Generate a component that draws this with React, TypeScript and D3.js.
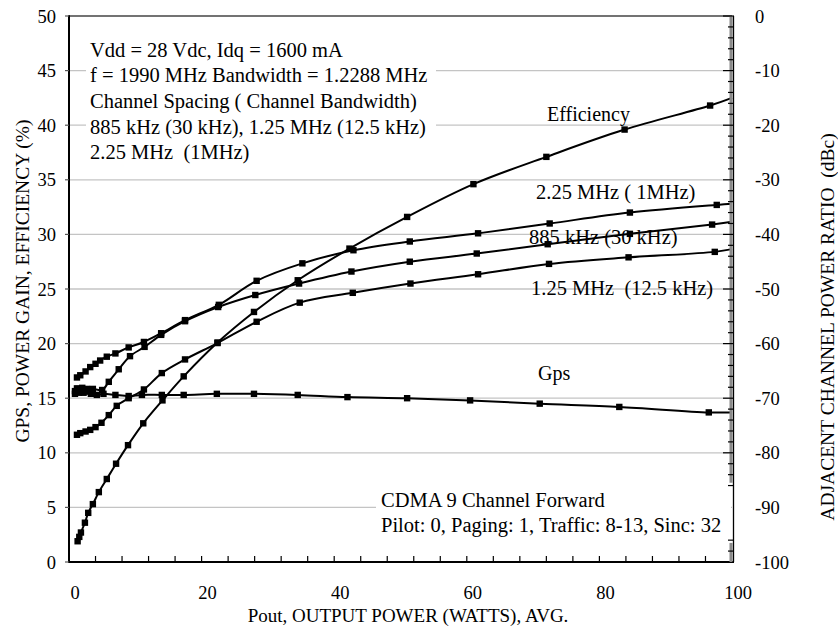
import React from 'react';
import * as d3 from 'd3';

// ---------------- data ----------------
// Pout (W) for each series and values
const gpsP = [0.9, 1.2, 1.5, 1.8, 2.2, 2.7, 3.3, 4.2, 5.2, 7, 9, 11, 14, 17.3, 22.3, 27.9, 34.5, 42, 51, 60.5, 71, 83, 96.5];
const gpsV = [15.4, 15.9, 15.5, 15.8, 15.5, 15.6, 15.4, 15.3, 15.4, 15.3, 15.2, 15.3, 15.3, 15.3, 15.4, 15.4, 15.3, 15.1, 15.0, 14.8, 14.5, 14.2, 13.7];
const gpsEnd = 13.7;

const effP = [1.3, 1.55, 1.8, 2.4, 2.9, 3.6, 4.5, 5.7, 7.1, 8.9, 11.2, 14.1, 17.3, 22.4, 27.9, 34.5, 42.3, 51, 61, 72, 83.8, 96.7];
const effV = [1.9, 2.3, 2.7, 3.6, 4.5, 5.3, 6.4, 7.6, 9.0, 10.7, 12.7, 14.8, 17.0, 20.1, 22.9, 25.8, 28.7, 31.6, 34.6, 37.1, 39.6, 41.8];
const effEnd = 42.5;

// ACPR (dBc, right axis)
const acpr225P = [1.2, 1.7, 2.5, 3.2, 4.0, 4.7, 5.7, 7.0, 9.0, 11.3, 13.9, 17.5, 22.6, 28.3, 35.2, 42.9, 51.4, 61.7, 72.5, 84.6, 97.7];
const acpr225V = [-66.2, -65.8, -65.1, -64.3, -63.7, -63.1, -62.4, -61.8, -60.7, -59.7, -58.1, -55.7, -52.9, -48.5, -45.3, -42.9, -41.3, -39.8, -38.0, -36.0, -34.6];
const acpr225End = -34.4;

const acpr885P = [0.9, 1.4, 2.0, 2.7, 3.6, 5.0, 6.0, 7.5, 9.2, 11.4, 13.9, 17.5, 22.5, 28.1, 34.7, 42.6, 51.4, 61.5, 72.2, 84.6, 97.0];
const acpr885V = [-68.7, -68.3, -68.1, -68.3, -68.3, -68.5, -67.0, -64.7, -62.3, -60.6, -58.4, -55.9, -53.3, -51.1, -49.0, -46.8, -45.0, -43.5, -41.8, -39.9, -38.2];
const acpr885End = -37.7;

const acpr125P = [1.2, 1.7, 2.5, 3.2, 4.0, 4.9, 6.0, 7.2, 9.0, 11.3, 14.0, 17.5, 22.4, 28.3, 34.8, 42.8, 51.5, 61.7, 72.4, 84.4, 97.4];
const acpr125V = [-76.7, -76.4, -76.1, -75.8, -75.3, -74.5, -73.1, -71.4, -70.0, -68.4, -65.4, -62.9, -59.9, -56.0, -52.5, -50.7, -49.0, -47.3, -45.4, -44.2, -43.2];
const acpr125End = -42.7;

const xTicks = [0, 20, 40, 60, 80, 100];
const yLeftTicks = [0, 5, 10, 15, 20, 25, 30, 35, 40, 45, 50];
const yRightTicks = [0, -10, -20, -30, -40, -50, -60, -70, -80, -90, -100];

const topNote = [
  'Vdd = 28 Vdc, Idq = 1600 mA',
  'f = 1990 MHz Bandwidth = 1.2288 MHz',
  'Channel Spacing ( Channel Bandwidth)',
  '885 kHz (30 kHz), 1.25 MHz (12.5 kHz)',
  '2.25 MHz  (1MHz)',
];
const bottomNote = ['CDMA 9 Channel Forward', 'Pilot: 0, Paging: 1, Traffic: 8-13, Sinc: 32'];

const FONT = '"Liberation Serif", "Times New Roman", Times, serif';

export default function App() {
  const W = 838, H = 628;
  const left = 69, right = 732, top = 16, bottom = 562;
  const x = d3.scaleLinear().domain([0, 100]).range([left, right]);
  const yL = d3.scaleLinear().domain([0, 50]).range([bottom, top]);
  const yR = d3.scaleLinear().domain([-100, 0]).range([bottom, top]);

  const mk = (P: number[], V: number[], end: number, axis: 'L' | 'R') => {
    const y = axis === 'L' ? yL : yR;
    const pts: [number, number][] = P.map((p, i) => [x(p), y(V[i])]);
    const linePts: [number, number][] = [...pts, [x(100), y(end)]];
    return { pts, linePts };
  };
  const series = [
    mk(gpsP, gpsV, gpsEnd, 'L'),
    mk(effP, effV, effEnd, 'L'),
    mk(acpr225P, acpr225V, acpr225End, 'R'),
    mk(acpr885P, acpr885V, acpr885End, 'R'),
    mk(acpr125P, acpr125V, acpr125End, 'R'),
  ];
  const line = d3.line<[number, number]>().x(d => d[0]).y(d => d[1]).curve(d3.curveCatmullRom.alpha(0.5));

  const xMinor = d3.range(4, 100, 4);
  const rMinor = d3.range(0, -87, -2);
  const textStyle: React.CSSProperties = { whiteSpace: 'pre' };

  return (
    <svg width={W} height={H} style={{ position: 'absolute', left: 0, top: 0, background: '#fff' }} fontFamily={FONT}>
      <rect x={0} y={0} width={W} height={H} fill="#fff" />
      {/* gridlines */}
      {yLeftTicks.filter(t => t > 0 && t < 50).map(t => (
        <line key={'g' + t} x1={left} x2={right} y1={yL(t)} y2={yL(t)} stroke="#c4c4c4" strokeWidth={1.3} />
      ))}
      {/* note boxes (white background) */}
      <rect x={86} y={32} width={350} height={134} fill="#fff" />
      <rect x={376} y={488} width={355} height={66} fill="#fff" />
      {topNote.map((t, i) => (
        <text key={'tn' + i} x={90} y={56.7 + i * 25.6} fontSize={20.5} fill="#000" style={textStyle}>{t}</text>
      ))}
      {bottomNote.map((t, i) => (
        <text key={'bn' + i} x={381} y={506.5 + i * 25.3} fontSize={20.5} fill="#000" style={textStyle}>{t}</text>
      ))}
      {/* series labels */}
      <text x={547} y={120.5} fontSize={20} style={textStyle}>Efficiency</text>
      <text x={536} y={199} fontSize={20.5} style={textStyle}>2.25 MHz ( 1MHz)</text>
      <text x={529} y={244} fontSize={20.5} style={textStyle}>885 kHz (30 kHz)</text>
      <text x={531} y={295} fontSize={20.5} style={textStyle}>1.25 MHz  (12.5 kHz)</text>
      <text x={538} y={380} fontSize={20} style={textStyle}>Gps</text>

      {/* curves */}
      {series.map((s, i) => (
        <g key={'s' + i}>
          <path d={line(s.linePts) || ''} fill="none" stroke="#000" strokeWidth={2} />
          {s.pts.map((p, j) => (
            <rect key={j} x={p[0] - 3.2} y={p[1] - 3.2} width={6.4} height={6.4} fill="#000" />
          ))}
        </g>
      ))}

      {/* frame */}
      <line x1={left} x2={right} y1={top} y2={top} stroke="#444" strokeWidth={1.5} />
      <line x1={left} x2={left} y1={top - 0.7} y2={bottom + 1} stroke="#000" strokeWidth={2} />
      <line x1={left - 1} x2={right + 2} y1={bottom} y2={bottom} stroke="#000" strokeWidth={2} />
      {/* right axis */}
      <line x1={right - 1} x2={right - 1} y1={top} y2={yR(-85.5)} stroke="#8a8a8a" strokeWidth={3} />
      <line x1={right - 1} x2={right - 1} y1={yR(-96.5)} y2={bottom} stroke="#8a8a8a" strokeWidth={3} />
      <line x1={right + 1.5} x2={right + 1.5} y1={top} y2={bottom} stroke="#000" strokeWidth={1.3} />
      {rMinor.map(t => (
        <line key={'rm' + t} x1={t % 10 === 0 ? right - 9 : right - 4} x2={right + 2} y1={yR(t)} y2={yR(t)} stroke="#000" strokeWidth={1.2} />
      ))}
      {[-96, -98].map(t => (
        <line key={'rb' + t} x1={right - 4} x2={right + 2} y1={yR(t)} y2={yR(t)} stroke="#000" strokeWidth={1.2} />
      ))}
      {/* left ticks */}
      {yLeftTicks.map(t => (
        <g key={'yl' + t}>
          <line x1={left - 4} x2={left} y1={yL(t)} y2={yL(t)} stroke="#555" strokeWidth={1.2} />
          <text x={56} y={yL(t) + 6.5} fontSize={18.5} textAnchor="end">{t}</text>
        </g>
      ))}
      {yRightTicks.map(t => (
        <text key={'yr' + t} x={755} y={yR(t) + 6.5} fontSize={18.5}>{t}</text>
      ))}
      {/* bottom ticks */}
      {xMinor.map(t => (
        <line key={'xm' + t} x1={x(t)} x2={x(t)} y1={bottom} y2={bottom - 6} stroke="#000" strokeWidth={1.2} />
      ))}
      {xTicks.map(t => (
        <text key={'xt' + t} x={x(t) + 6} y={598.5} fontSize={18.5} textAnchor="middle">{t}</text>
      ))}
      {/* axis titles */}
      <text x={408} y={622} fontSize={19} textAnchor="middle">Pout, OUTPUT POWER (WATTS), AVG.</text>
      <text transform="translate(28.5,281) rotate(-90)" fontSize={19.5} textAnchor="middle">GPS, POWER GAIN, EFFICIENCY (%)</text>
      <text transform="translate(834,327) rotate(-90)" fontSize={19.5} textAnchor="middle" style={textStyle}>ADJACENT CHANNEL POWER RATIO  (dBc)</text>
    </svg>
  );
}
